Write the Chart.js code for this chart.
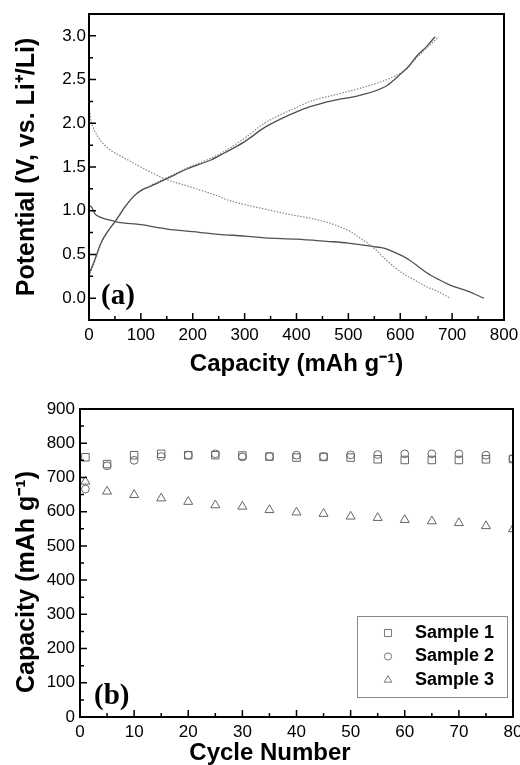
<!DOCTYPE html>
<html>
<head>
<meta charset="utf-8">
<script src="https://cdn.jsdelivr.net/npm/chart.js@4.4.1/dist/chart.umd.min.js"></script>
<style>
  body { margin: 0; background: #fff; }
  #boxA { position: absolute; left: 0; top: 0; width: 520px; height: 380px; }
  #boxB { position: absolute; left: 0; top: 380px; width: 520px; height: 385px; }
</style>
</head>
<body>
<div id="boxA"><canvas id="chartA" width="520" height="380"></canvas></div>
<div id="boxB"><canvas id="chartB" width="520" height="385"></canvas></div>
<script>
// (a) voltage profiles: capacity (mAh/g) and potential (V)
const solidDisCap = [0, 5, 12, 20, 35, 55, 100, 151, 200, 250, 300, 338, 400, 458, 500, 548, 570, 587, 605, 619, 635, 651, 675, 696, 730, 761];
const solidDisV   = [1.06, 1.04, 0.96, 0.93, 0.90, 0.87, 0.84, 0.79, 0.76, 0.73, 0.71, 0.69, 0.675, 0.65, 0.63, 0.59, 0.57, 0.53, 0.48, 0.43, 0.36, 0.29, 0.21, 0.15, 0.08, 0.0];
const solidChgCap = [0, 10, 23, 37, 52, 70, 87, 100, 119, 151, 190, 235, 261, 300, 338, 370, 400, 426, 470, 522, 574, 600, 616, 632, 651, 667];
const solidChgV   = [0.28, 0.42, 0.63, 0.77, 0.89, 1.05, 1.17, 1.23, 1.28, 1.37, 1.48, 1.58, 1.66, 1.79, 1.95, 2.05, 2.13, 2.19, 2.26, 2.32, 2.43, 2.56, 2.65, 2.77, 2.88, 2.99];
const dotDisCap = [0, 3, 8, 16, 28, 42, 60, 84, 116, 148, 180, 212, 248, 264, 300, 338, 393, 430, 458, 490, 505, 522, 548, 574, 590, 606, 630, 651, 675, 696];
const dotDisV   = [2.22, 2.05, 1.95, 1.86, 1.76, 1.69, 1.63, 1.55, 1.45, 1.36, 1.30, 1.24, 1.17, 1.13, 1.07, 1.02, 0.95, 0.91, 0.87, 0.80, 0.76, 0.69, 0.58, 0.43, 0.35, 0.28, 0.20, 0.13, 0.07, 0.0];
const dotChgCap = [0, 10, 23, 37, 52, 70, 87, 100, 119, 151, 190, 235, 261, 300, 338, 370, 400, 426, 470, 522, 574, 612, 630, 651, 674];
const dotChgV   = [0.25, 0.40, 0.62, 0.77, 0.89, 1.05, 1.17, 1.23, 1.29, 1.38, 1.49, 1.60, 1.68, 1.83, 2.0, 2.1, 2.18, 2.25, 2.32, 2.40, 2.50, 2.62, 2.74, 2.86, 2.99];
const potentialTicks = [0, 0.5, 1.0, 1.5, 2.0, 2.5, 3.0];

// (b) cycling
const cycles  = [1, 5, 10, 15, 20, 25, 30, 35, 40, 45, 50, 55, 60, 65, 70, 75, 80];
const sample1 = [759, 739, 765, 769, 765, 765, 764, 761, 758, 760, 758, 753, 751, 751, 751, 753, 754];
const sample2 = [666, 734, 750, 761, 765, 769, 760, 761, 765, 761, 766, 767, 769, 769, 769, 765, 755];
const sample3 = [688, 659, 649, 639, 629, 619, 615, 605, 598, 594, 586, 582, 576, 572, 567, 558, 549];
const sampleNames = ['Sample 1', 'Sample 2', 'Sample 3'];

Chart.defaults.font.family = '"Liberation Sans", Arial, sans-serif';
Chart.defaults.color = '#000';

const pts = (xs, ys) => xs.map((x, i) => ({ x: x, y: ys[i] }));

// box around the plot + inward tick marks
const frameTicks = {
  id: 'frameTicks',
  afterDatasetsDraw(chart, args, opts) {
    const { ctx, chartArea: a, scales: { x, y } } = chart;
    ctx.save();
    ctx.strokeStyle = '#000';
    ctx.lineWidth = 1.5;
    const marks = (scale, minor, major, draw) => {
      const n0 = Math.ceil(scale.min / minor - 1e-9);
      const n1 = Math.floor(scale.max / minor + 1e-9);
      for (let i = n0; i <= n1; i++) {
        const v = i * minor;
        const isMajor = Math.abs(v / major - Math.round(v / major)) < 1e-6;
        draw(scale.getPixelForValue(v), isMajor ? 7 : 4);
      }
    };
    ctx.beginPath();
    marks(x, opts.xMinor, opts.xMajor, (p, len) => { ctx.moveTo(p, a.bottom); ctx.lineTo(p, a.bottom - len); });
    marks(y, opts.yMinor, opts.yMajor, (p, len) => { ctx.moveTo(a.left, p); ctx.lineTo(a.left + len, p); });
    ctx.stroke();
    ctx.lineWidth = 2;
    ctx.strokeRect(a.left, a.top, a.right - a.left, a.bottom - a.top);
    ctx.restore();
  }
};

// free text placed relative to the chart area's bottom-left corner
const panelText = {
  id: 'panelText',
  afterDraw(chart, args, opts) {
    const { ctx, chartArea: a } = chart;
    (opts.items || []).forEach(t => {
      ctx.save();
      ctx.font = t.font;
      ctx.fillStyle = '#000';
      ctx.textAlign = t.align || 'left';
      ctx.textBaseline = 'middle';
      ctx.translate(a.left + t.dx, a.bottom + t.dy);
      if (t.rotate) ctx.rotate(t.rotate);
      ctx.fillText(t.text, 0, 0);
      ctx.restore();
    });
  }
};

// boxed legend inside the plot
const boxLegend = {
  id: 'boxLegend',
  afterDraw(chart, args, opts) {
    const { ctx, chartArea: a } = chart;
    const x0 = a.right - 156, y0 = a.bottom - 101;
    ctx.save();
    ctx.fillStyle = '#fff';
    ctx.fillRect(x0, y0, 150, 81);
    ctx.strokeStyle = '#8a8a8a';
    ctx.lineWidth = 1;
    ctx.strokeRect(x0 + 0.5, y0 + 0.5, 150, 81);
    chart.data.datasets.forEach((ds, i) => {
      const yy = y0 + 17 + i * 23.5;
      ctx.strokeStyle = '#777';
      ctx.fillStyle = 'rgba(0,0,0,0)';
      ctx.lineWidth = 1;
      Chart.helpers.drawPoint(ctx, { pointStyle: ds.pointStyle, radius: ds.legendRadius, rotation: 0, borderWidth: 1 }, x0 + 31, yy);
      ctx.fillStyle = '#000';
      ctx.font = 'bold 18px "Liberation Sans", Arial, sans-serif';
      ctx.textBaseline = 'middle';
      ctx.textAlign = 'left';
      ctx.fillText(ds.label, x0 + 58, yy);
    });
    ctx.restore();
  }
};

new Chart(document.getElementById('chartA'), {
  type: 'line',
  data: {
    datasets: [
      { label: 'discharge 1', data: pts(solidDisCap, solidDisV), borderColor: '#505050', borderWidth: 1.3, pointRadius: 0, cubicInterpolationMode: 'monotone' },
      { label: 'charge 1', data: pts(solidChgCap, solidChgV), borderColor: '#505050', borderWidth: 1.3, pointRadius: 0, cubicInterpolationMode: 'monotone' },
      { label: 'discharge 2', data: pts(dotDisCap, dotDisV), borderColor: '#888', borderWidth: 1.2, borderDash: [1.5, 1.5], pointRadius: 0, cubicInterpolationMode: 'monotone' },
      { label: 'charge 2', data: pts(dotChgCap, dotChgV), borderColor: '#888', borderWidth: 1.2, borderDash: [1.5, 1.5], pointRadius: 0, cubicInterpolationMode: 'monotone' }
    ]
  },
  options: {
    responsive: false,
    animation: false,
    layout: { padding: { left: 0, top: 14, right: 16, bottom: 0 } },
    plugins: {
      legend: { display: false },
      tooltip: { enabled: false },
      frameTicks: { xMajor: 100, xMinor: 50, yMajor: 0.5, yMinor: 0.25 },
      panelText: { items: [
        { text: '(a)', font: 'bold 29px "Liberation Serif", "Times New Roman", serif', dx: 12, dy: -23 }
      ] }
    },
    scales: {
      x: {
        type: 'linear', min: 0, max: 800,
        grid: { display: false, drawTicks: false }, border: { display: false },
        ticks: { stepSize: 100, padding: 5, autoSkip: false, maxRotation: 0, font: { size: 17 } },
        title: { display: true, text: 'Capacity (mAh g⁻¹)', font: { size: 24, weight: 'bold' }, padding: { top: 0, bottom: 1 } },
        afterFit: s => { s.height = 60; s.paddingLeft = 0; s.paddingRight = 0; }
      },
      y: {
        min: -0.25, max: 3.25,
        grid: { display: false, drawTicks: false }, border: { display: false },
        ticks: { padding: 3, font: { size: 17 }, callback: v => Number(v).toFixed(1) },
        afterBuildTicks: s => { s.ticks = potentialTicks.map(v => ({ value: v })); },
        title: { display: true, text: 'Potential (V, vs. Li⁺/Li)', font: { size: 25, weight: 'bold' }, padding: { top: 12, bottom: 0 } },
        afterFit: s => { s.width = 89; }
      }
    }
  },
  plugins: [frameTicks, panelText]
});

new Chart(document.getElementById('chartB'), {
  type: 'scatter',
  data: {
    datasets: [
      { label: sampleNames[0], data: pts(cycles, sample1), pointStyle: 'rect', pointRadius: 5.3, legendRadius: 5, borderColor: '#666', backgroundColor: 'rgba(0,0,0,0)', pointBorderWidth: 1 },
      { label: sampleNames[1], data: pts(cycles, sample2), pointStyle: 'circle', pointRadius: 3.9, legendRadius: 3.6, borderColor: '#666', backgroundColor: 'rgba(0,0,0,0)', pointBorderWidth: 1 },
      { label: sampleNames[2], data: pts(cycles, sample3), pointStyle: 'triangle', pointRadius: 5.2, legendRadius: 4.4, borderColor: '#666', backgroundColor: 'rgba(0,0,0,0)', pointBorderWidth: 1 }
    ]
  },
  options: {
    responsive: false,
    animation: false,
    layout: { padding: { left: 0, top: 29, right: 7, bottom: 0 } },
    plugins: {
      legend: { display: false },
      tooltip: { enabled: false },
      frameTicks: { xMajor: 10, xMinor: 5, yMajor: 100, yMinor: 50 },
      panelText: { items: [
        { text: '(b)', font: 'bold 29px "Liberation Serif", "Times New Roman", serif', dx: 14, dy: -20 },
        { text: 'Cycle Number', font: 'bold 24px "Liberation Sans", Arial, sans-serif', align: 'center', dx: 190, dy: 36 },
        { text: 'Capacity (mAh g⁻¹)', font: 'bold 25px "Liberation Sans", Arial, sans-serif', align: 'center', dx: -53, dy: -135, rotate: -Math.PI / 2 }
      ] }
    },
    scales: {
      x: {
        type: 'linear', min: 0, max: 80,
        grid: { display: false, drawTicks: false }, border: { display: false },
        ticks: { stepSize: 10, padding: 5, autoSkip: false, maxRotation: 0, font: { size: 17 } },
        afterFit: s => { s.height = 48; s.paddingLeft = 0; s.paddingRight = 0; }
      },
      y: {
        min: 0, max: 900,
        grid: { display: false, drawTicks: false }, border: { display: false },
        ticks: { stepSize: 100, padding: 5, font: { size: 17 } },
        afterFit: s => { s.width = 80; }
      }
    }
  },
  plugins: [frameTicks, panelText, boxLegend]
});
</script>
</body>
</html>
